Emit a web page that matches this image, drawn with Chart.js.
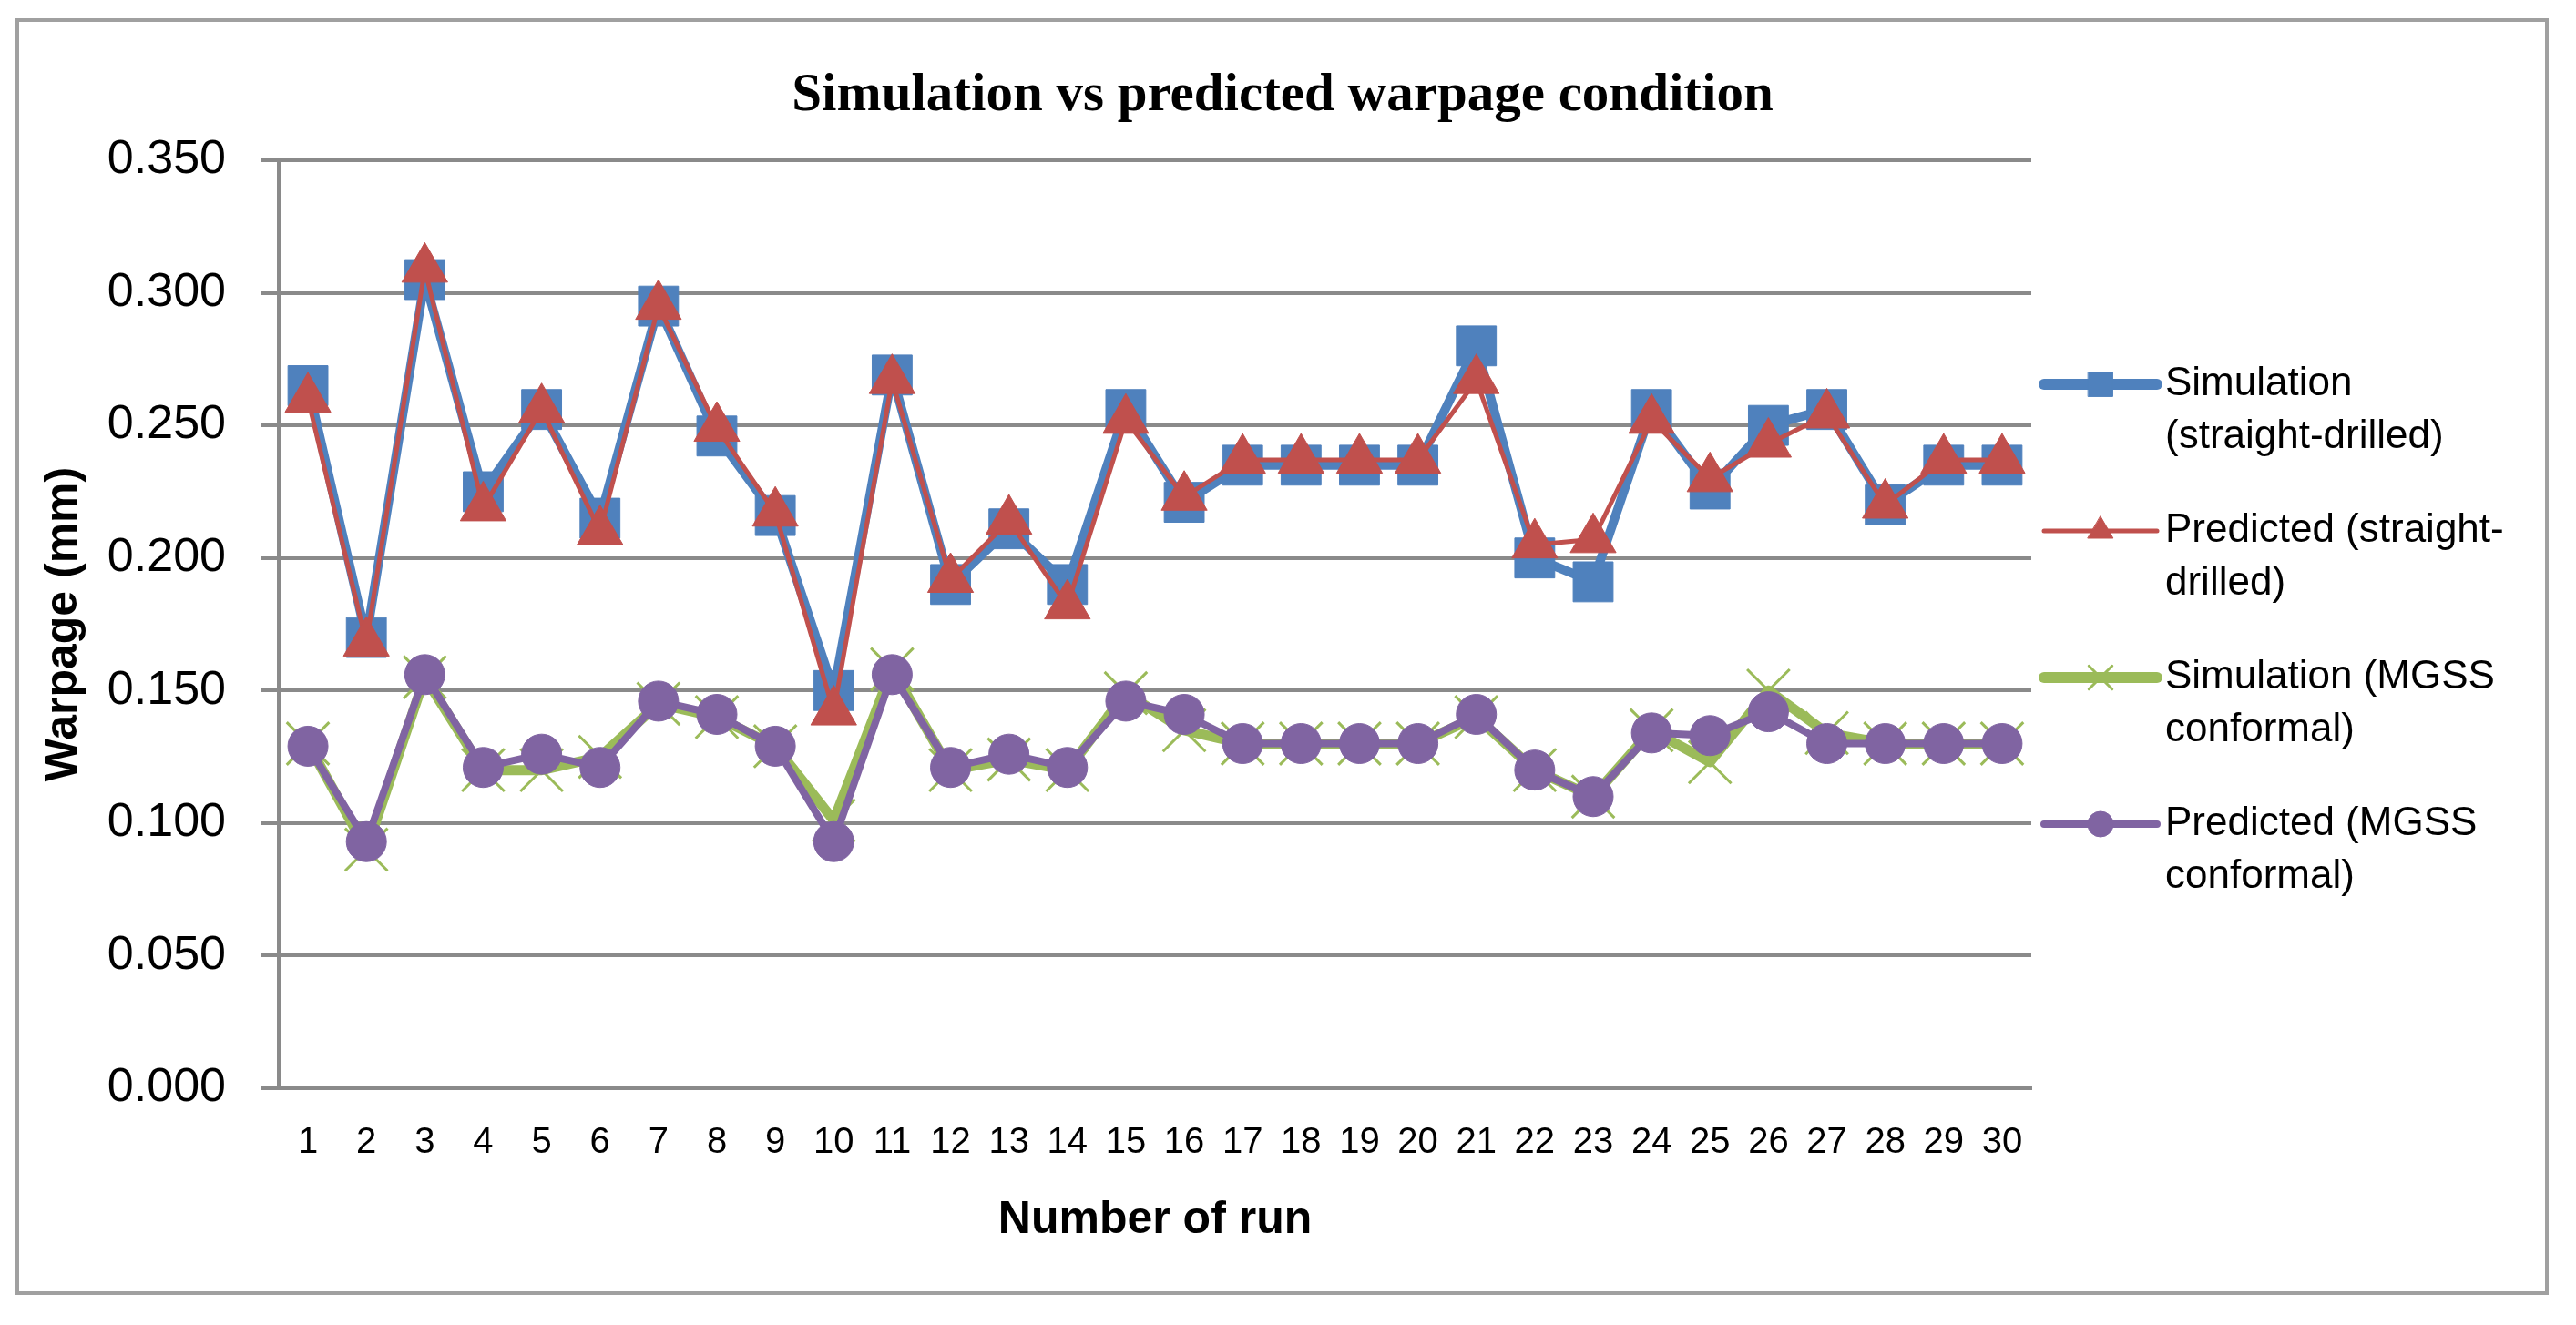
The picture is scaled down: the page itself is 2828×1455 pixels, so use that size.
<!DOCTYPE html>
<html>
<head>
<meta charset="utf-8">
<script src="https://cdn.jsdelivr.net/npm/chart.js@4.4.1/dist/chart.umd.min.js"></script>
<style>
html, body { margin: 0; padding: 0; background: #fff; }
#wrap { width: 2828px; height: 1455px; }
</style>
</head>
<body>
<div id="wrap"><canvas id="warpChart" width="2828" height="1455"></canvas></div>
<script>
// Data
const runs = ['1', '2', '3', '4', '5', '6', '7', '8', '9', '10',
    '11', '12', '13', '14', '15', '16', '17', '18', '19', '20',
    '21', '22', '23', '24', '25', '26', '27', '28', '29', '30'];
const simStraight = [0.265, 0.170, 0.305, 0.225, 0.256, 0.215, 0.295, 0.246, 0.216, 0.150,
    0.269, 0.190, 0.211, 0.190, 0.256, 0.221, 0.235, 0.235, 0.235, 0.235,
    0.280, 0.200, 0.191, 0.256, 0.226, 0.250, 0.256, 0.220, 0.235, 0.235];
const predStraight = [0.260, 0.168, 0.309, 0.219, 0.256, 0.210, 0.295, 0.249, 0.217, 0.142,
    0.267, 0.192, 0.214, 0.182, 0.252, 0.223, 0.237, 0.237, 0.237, 0.237,
    0.267, 0.205, 0.207, 0.252, 0.230, 0.243, 0.254, 0.220, 0.237, 0.237];
const simMgss = [0.130, 0.090, 0.155, 0.120, 0.120, 0.125, 0.145, 0.140, 0.129, 0.101,
    0.158, 0.120, 0.124, 0.120, 0.149, 0.135, 0.130, 0.130, 0.130, 0.130,
    0.140, 0.120, 0.110, 0.135, 0.123, 0.150, 0.134, 0.130, 0.130, 0.130];
const predMgss = [0.129, 0.093, 0.156, 0.121, 0.126, 0.121, 0.146, 0.141, 0.129, 0.093,
    0.156, 0.121, 0.126, 0.121, 0.146, 0.141, 0.130, 0.130, 0.130, 0.130,
    0.141, 0.120, 0.110, 0.134, 0.133, 0.142, 0.130, 0.130, 0.130, 0.130];
const yTicks = [0, 0.05, 0.10, 0.15, 0.20, 0.25, 0.30, 0.35];
const seriesLabels = [
    ['Simulation', '(straight-drilled)'],
    ['Predicted (straight-', 'drilled)'],
    ['Simulation (MGSS', 'conformal)'],
    ['Predicted (MGSS', 'conformal)']
];

const SANS = '"Liberation Sans", Arial, sans-serif';
const gridColor = '#8a8a8a';

// Frame round the whole picture
const framePlugin = {
    id: 'frame',
    beforeDraw(chart) {
        const ctx = chart.ctx;
        ctx.save();
        ctx.fillStyle = '#fff';
        ctx.fillRect(0, 0, chart.width, chart.height);
        ctx.strokeStyle = '#a0a0a0';
        ctx.lineWidth = 4;
        ctx.strokeRect(19, 22, 2777, 1398);
        ctx.restore();
    }
};

// Title in Times, centred on the picture
const titlePlugin = {
    id: 'bigTitle',
    afterDraw(chart) {
        const ctx = chart.ctx;
        ctx.save();
        ctx.font = 'bold 59px "Liberation Serif", "Times New Roman", serif';
        ctx.fillStyle = '#000';
        ctx.textAlign = 'center';
        ctx.textBaseline = 'alphabetic';
        ctx.fillText('Simulation vs predicted warpage condition', 1408, 121);
        ctx.restore();
    }
};

// Legend with two-line labels on the right
const legendPlugin = {
    id: 'sideLegend',
    afterDraw(chart) {
        const ctx = chart.ctx;
        const x0 = 2244, len = 124, textX = 2377;
        const top = 422, gap = 161, lineGap = 58;
        ctx.save();
        chart.data.datasets.forEach((ds, i) => {
            const y = top + i * gap;
            ctx.strokeStyle = ds.borderColor;
            ctx.lineWidth = ds.legendLine;
            ctx.lineCap = 'round';
            ctx.beginPath();
            ctx.moveTo(x0, y);
            ctx.lineTo(x0 + len, y);
            ctx.stroke();
            ctx.fillStyle = ds.pointBackgroundColor;
            ctx.strokeStyle = ds.pointBorderColor;
            ctx.lineWidth = ds.pointBorderWidth;
            Chart.helpers.drawPoint(ctx, {
                pointStyle: ds.pointStyle,
                radius: ds.legendRadius,
                rotation: 0,
                borderWidth: ds.pointBorderWidth
            }, x0 + len / 2, y);
            ctx.fillStyle = '#000';
            ctx.font = '44px ' + SANS;
            ctx.textAlign = 'left';
            ctx.textBaseline = 'middle';
            seriesLabels[i].forEach((t, k) => ctx.fillText(t, textX, y + k * lineGap));
        });
        ctx.restore();
    }
};

const ctx = document.getElementById('warpChart');
const chart = new Chart(ctx, {
    type: 'line',
    data: {
        labels: runs,
        datasets: [{
            label: seriesLabels[0].join(' '),
            data: simStraight,
            borderColor: '#4F81BD',
            borderWidth: 10,
            legendLine: 12,
            pointStyle: 'rect',
            pointRadius: 31,
            legendRadius: 19,
            pointBackgroundColor: '#4F81BD',
            pointBorderColor: '#4F81BD',
            pointBorderWidth: 1,
            order: 4
        }, {
            label: seriesLabels[1].join(' '),
            data: predStraight,
            borderColor: '#C0504D',
            borderWidth: 5,
            legendLine: 5,
            pointStyle: 'triangle',
            pointRadius: 29,
            legendRadius: 16,
            pointBackgroundColor: '#C0504D',
            pointBorderColor: '#C0504D',
            pointBorderWidth: 1,
            order: 3
        }, {
            label: seriesLabels[2].join(' '),
            data: simMgss,
            borderColor: '#9BBB59',
            borderWidth: 11,
            legendLine: 12,
            pointStyle: 'crossRot',
            pointRadius: 33,
            legendRadius: 18,
            pointBackgroundColor: '#9BBB59',
            pointBorderColor: '#9BBB59',
            pointBorderWidth: 3,
            order: 2
        }, {
            label: seriesLabels[3].join(' '),
            data: predMgss,
            borderColor: '#8064A2',
            borderWidth: 8,
            legendLine: 8,
            pointStyle: 'circle',
            pointRadius: 22,
            legendRadius: 14,
            pointBackgroundColor: '#8064A2',
            pointBorderColor: '#8064A2',
            pointBorderWidth: 1,
            order: 1
        }]
    },
    options: {
        responsive: false,
        animation: false,
        devicePixelRatio: 1,
        layout: { padding: { top: 176, left: 36, right: 598, bottom: 81 } },
        plugins: {
            legend: { display: false },
            title: { display: false },
            tooltip: { enabled: false }
        },
        elements: {
            line: { tension: 0, borderJoinStyle: 'round', borderCapStyle: 'round' }
        },
        scales: {
            x: {
                offset: true,
                afterFit: s => { s.height = 179; },
                grid: { display: false, drawTicks: false },
                border: { display: true, color: gridColor, width: 4 },
                ticks: {
                    font: { family: SANS, size: 40 },
                    color: '#000',
                    padding: 36,
                    maxRotation: 0,
                    autoSkip: false
                },
                title: {
                    display: true,
                    text: 'Number of run',
                    font: { family: SANS, size: 50, weight: 'bold' },
                    color: '#000',
                    padding: { top: 4, bottom: 4 }
                }
            },
            y: {
                min: 0,
                max: 0.35,
                afterFit: s => { s.width = 270; },
                afterBuildTicks: s => { s.ticks = yTicks.map(v => ({ value: v })); },
                grid: { color: gridColor, lineWidth: 4, tickLength: 19, drawTicks: true },
                border: { color: gridColor, width: 4 },
                ticks: {
                    callback: v => v.toFixed(3),
                    font: { family: SANS, size: 52 },
                    color: '#000',
                    padding: 39
                },
                title: {
                    display: true,
                    text: 'Warpage (mm)',
                    font: { family: SANS, size: 50, weight: 'bold' },
                    color: '#000',
                    padding: { top: 4, bottom: 4 }
                }
            }
        }
    },
    plugins: [framePlugin, titlePlugin, legendPlugin]
});
</script>
</body>
</html>
